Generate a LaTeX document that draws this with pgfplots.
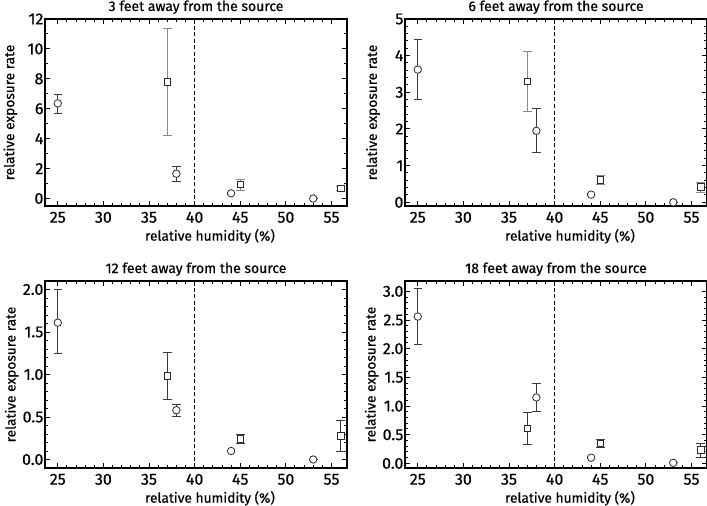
\documentclass[border=0pt]{standalone}
\usepackage{pgfplots}
\pgfplotsset{compat=1.18}
\usepackage{fontspec}
\setmainfont{Fira Sans}[UprightFeatures={FakeBold=0.45}]
\definecolor{eb}{HTML}{3A3A3A}
\definecolor{ebl}{HTML}{8A8A8A}
\definecolor{mk}{HTML}{2A2A2A}
\pgfplotsset{
  every axis title shift=0pt,
  panel/.style={
    scale only axis, width=226.5pt, height=140.25pt,
    axis line style={line width=1.2pt, black},
    tick style={black, line width=0.75pt},
    major tick length=4pt, minor tick length=2.3pt,
    tick align=inside,
    xmin=23.6, xmax=56.7, xtick={25,30,...,55}, minor x tick num=4,
    ticklabel style={font=\fontsize{12}{12}\selectfont},
    xticklabel style={anchor=base, yshift=-12.5pt},
    yticklabel style={inner xsep=1pt},
    label style={font=\fontsize{10.3}{12}\selectfont},
    title style={font=\fontsize{10.5}{12}\selectfont, at={(axis description cs:0.5,1)}, anchor=base, yshift=6pt},
    xlabel={relative humidity (\%)},
    ylabel={relative exposure rate},
    xlabel style={at={(axis description cs:0.5,0)}, anchor=base, yshift=-26pt, xshift=10.5pt},
    ylabel style={at={(axis description cs:0,0.5)}, anchor=center, rotate=0, yshift=25pt},
    /pgf/number format/assume math mode=true,
    clip=false,
  },
  circ/.style={only marks, mark=*, mark size=2.8pt,
    mark options={fill=white, draw=mk, line width=0.6pt},
    error bars/.cd, y dir=both, y explicit,
    error bar style={#1, line width=0.8pt},
    error mark options={rotate=90, mark size=3.2pt, #1, line width=0.8pt}},
  sq/.style={only marks, mark=square*, mark size=2.5pt,
    mark options={fill=white, draw=mk, line width=0.6pt},
    error bars/.cd, y dir=both, y explicit,
    error bar style={#1, line width=0.8pt},
    error mark options={rotate=90, mark size=3.2pt, #1, line width=0.8pt}},
  vline/.style={black, line width=0.9pt, dash pattern=on 3pt off 1.9pt},
}
\begin{document}
\begin{tikzpicture}
\useasboundingbox (0,0) rectangle (530.25pt,-379.5pt);
% Panel 1
\begin{axis}[panel, at={(33.75pt,-14.25pt)}, anchor=north west,
  title={3 feet away from the source},
  ylabel style={yshift=1pt},
  ymin=-0.5, ymax=12, ytick={0,2,...,12}, minor y tick num=1]
\addplot[vline] coordinates {(40,-0.5) (40,12)};
\addplot[circ=eb] coordinates {
 (25,6.36) += (0,0.62) -= (0,0.66)
 (38,1.66) += (0,0.46) -= (0,0.53)
 (44,0.35) += (0,0.05) -= (0,0.05)
 (53,0.0) += (0,0) -= (0,0)
};
\addplot[sq=ebl] coordinates {
 (37,7.8) += (0,3.58) -= (0,3.58)
 (45,0.95) += (0,0.33) -= (0,0.44)
 (56,0.68) += (0,0.15) -= (0,0.15)
};
\end{axis}
% Panel 2
\begin{axis}[panel, at={(303.75pt,-14.25pt)}, anchor=north west,
  title={6 feet away from the source},
  ylabel style={yshift=-1pt},
  ymin=-0.1, ymax=5, ytick={0,1,...,5}, minor y tick num=4]
\addplot[vline] coordinates {(40,-0.1) (40,5)};
\addplot[circ=eb] coordinates {
 (25,3.62) += (0,0.83) -= (0,0.82)
 (38,1.95) += (0,0.6) -= (0,0.6)
 (44,0.21) += (0,0.03) -= (0,0.03)
 (53,0.0) += (0,0) -= (0,0)
};
\addplot[sq=ebl] coordinates {
 (37,3.3) += (0,0.82) -= (0,0.83)
 (45,0.61) += (0,0.12) -= (0,0.13)
 (56,0.42) += (0,0.13) -= (0,0.15)
};
\end{axis}
% Panel 3
\begin{axis}[panel, at={(33.75pt,-210.75pt)}, anchor=north west,
  title={12 feet away from the source},
  ymin=-0.1, ymax=2.1, ytick={0,0.5,...,2.0}, minor y tick num=4,
  yticklabel style={/pgf/number format/.cd, fixed, fixed zerofill, precision=1}]
\addplot[vline] coordinates {(40,-0.1) (40,2.1)};
\addplot[circ=eb] coordinates {
 (25,1.61) += (0,0.39) -= (0,0.36)
 (38,0.58) += (0,0.07) -= (0,0.07)
 (44,0.1) += (0,0.01) -= (0,0.01)
 (53,0.0) += (0,0) -= (0,0)
};
\addplot[sq=eb] coordinates {
 (37,0.98) += (0,0.28) -= (0,0.27)
 (45,0.24) += (0,0.05) -= (0,0.05)
 (56,0.28) += (0,0.18) -= (0,0.19)
};
\end{axis}
% Panel 4
\begin{axis}[panel, at={(303.75pt,-210.75pt)}, anchor=north west,
  title={18 feet away from the source},
  ymin=-0.08, ymax=3.18, ytick={0,0.5,...,3.0}, minor y tick num=4,
  yticklabel style={/pgf/number format/.cd, fixed, fixed zerofill, precision=1}]
\addplot[vline] coordinates {(40,-0.08) (40,3.18)};
\addplot[circ=eb] coordinates {
 (25,2.56) += (0,0.49) -= (0,0.48)
 (38,1.15) += (0,0.24) -= (0,0.24)
 (44,0.1) += (0,0.02) -= (0,0.02)
 (53,0.01) += (0,0) -= (0,0)
};
\addplot[sq=eb] coordinates {
 (37,0.61) += (0,0.27) -= (0,0.28)
 (45,0.35) += (0,0.07) -= (0,0.08)
 (56,0.23) += (0,0.12) -= (0,0.12)
};
\end{axis}
\end{tikzpicture}
\end{document}
